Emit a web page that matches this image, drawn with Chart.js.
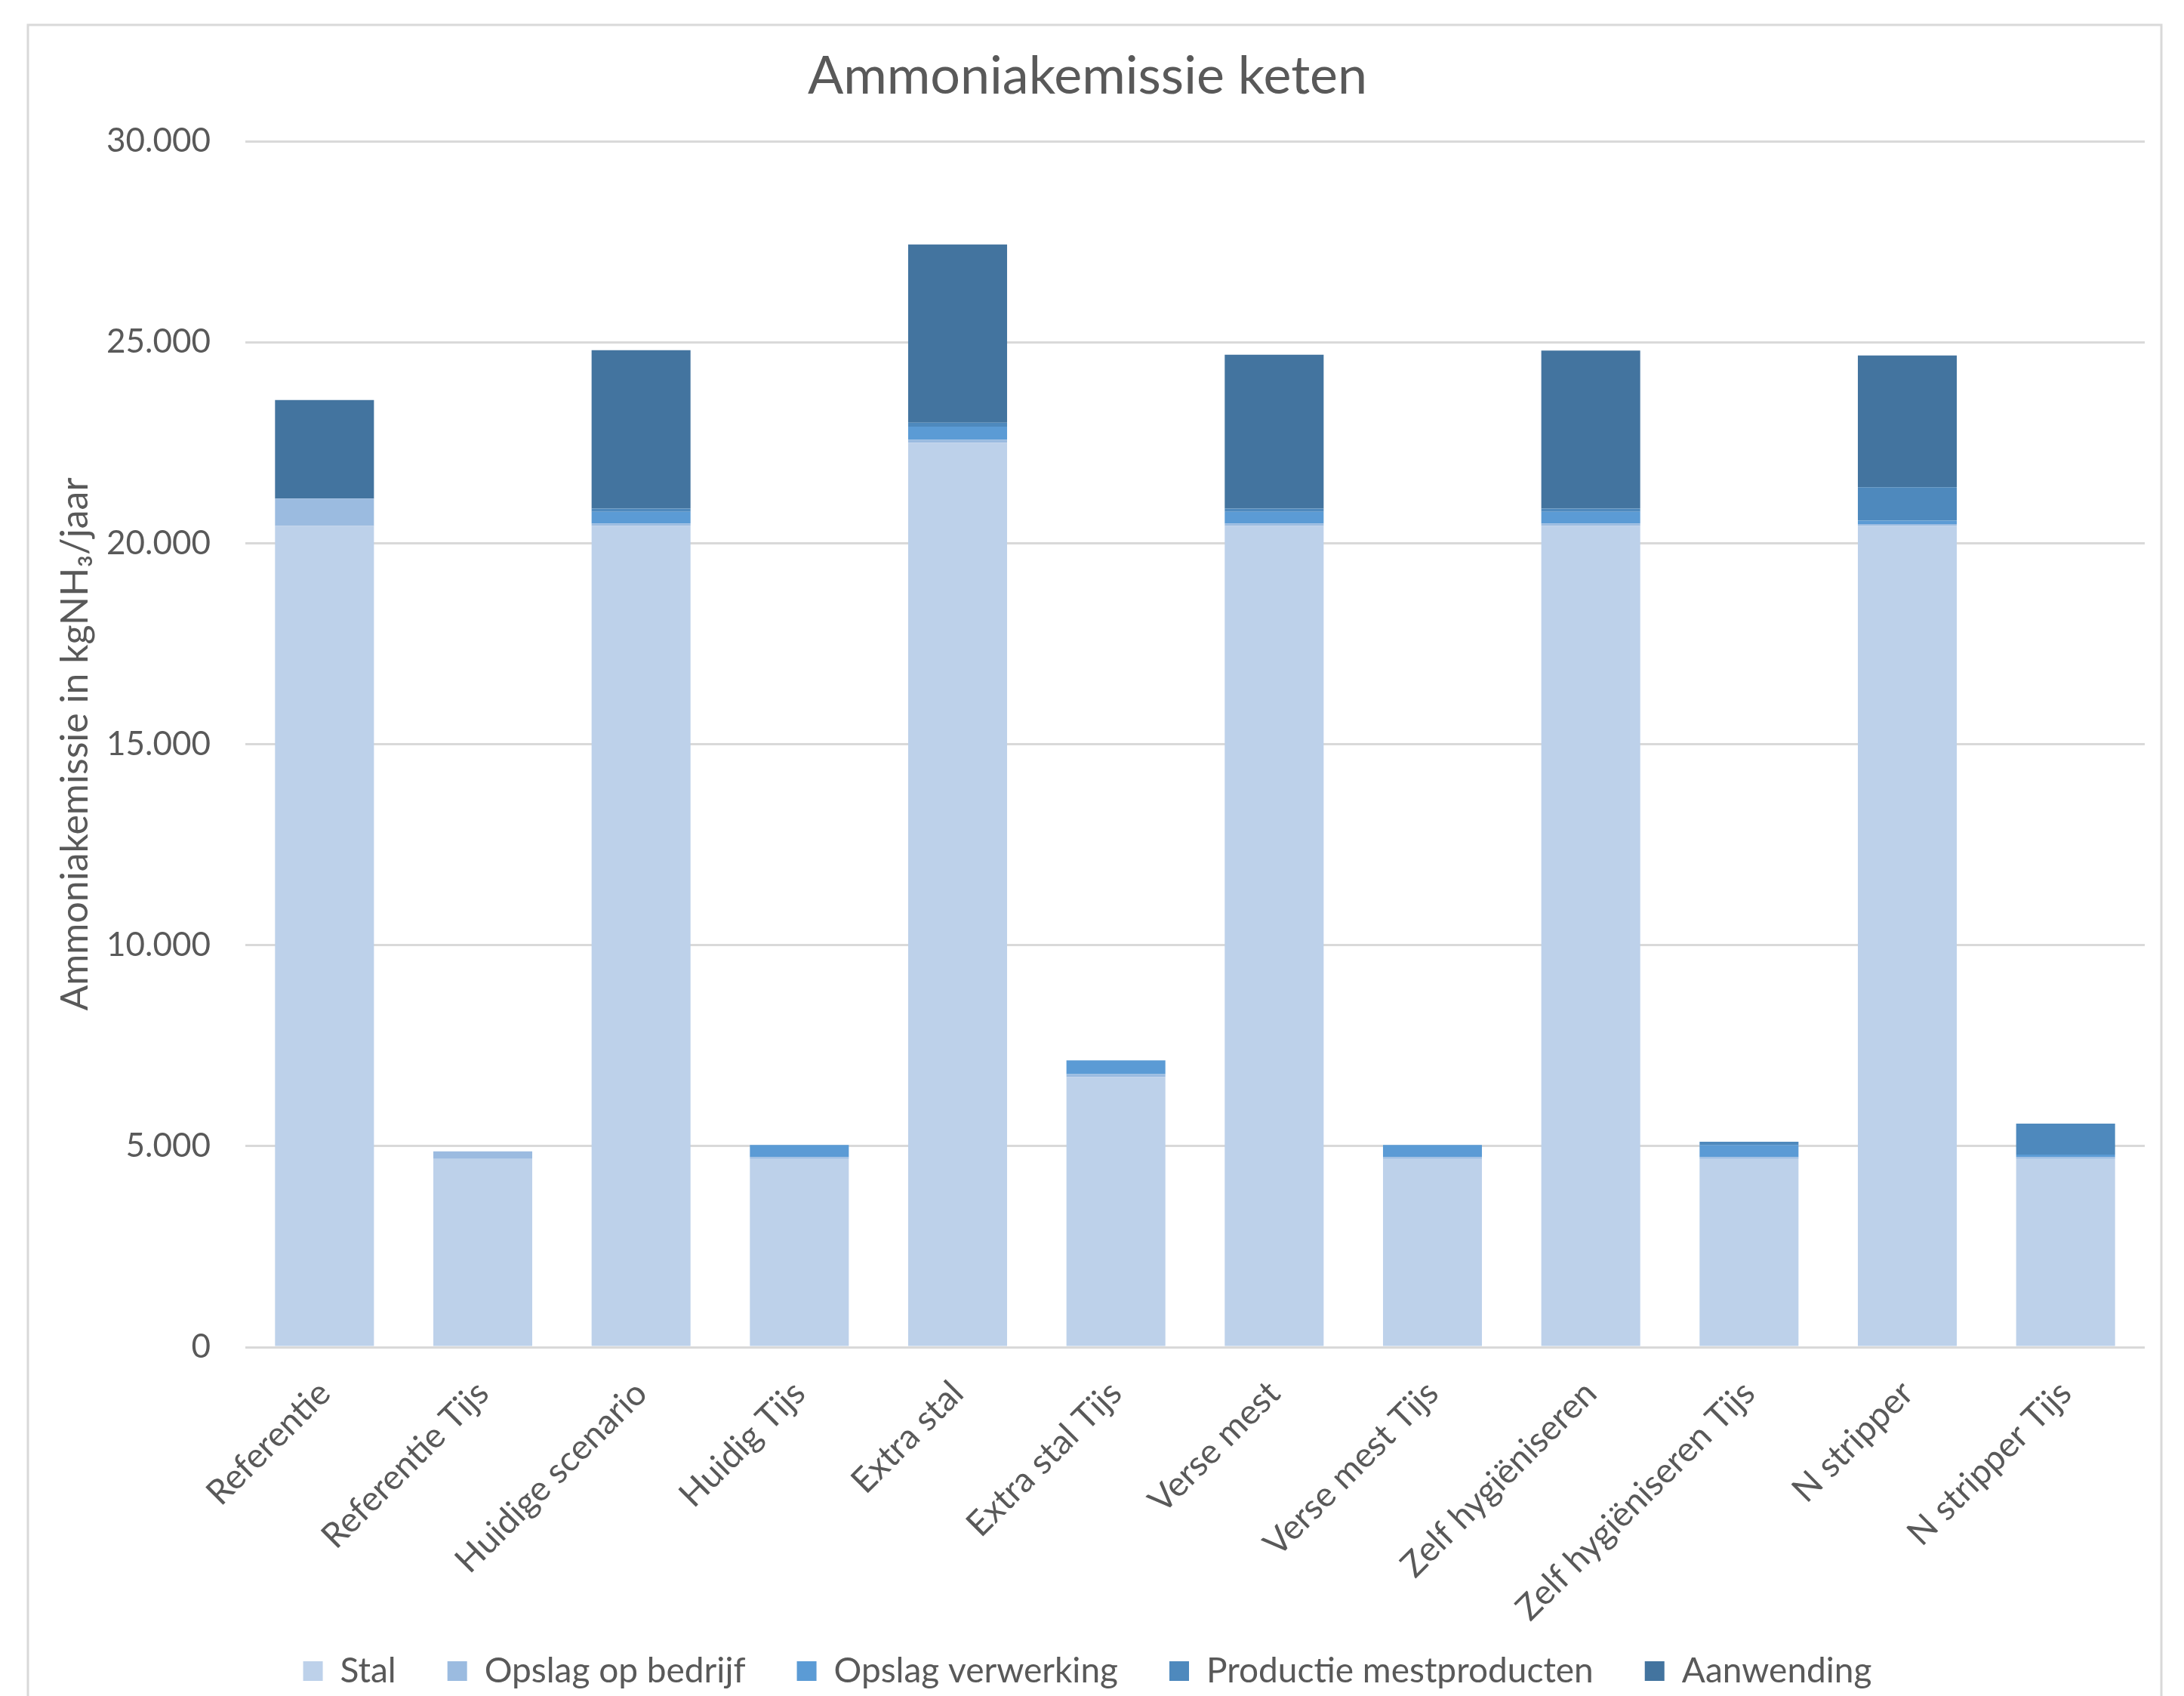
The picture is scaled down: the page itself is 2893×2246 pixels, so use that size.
<!DOCTYPE html>
<html>
<head>
<meta charset="utf-8">
<script src="https://cdn.jsdelivr.net/npm/chart.js@4/dist/chart.umd.min.js"></script>
<style>
  html, body { margin: 0; padding: 0; background: #fff; }
  #wrap { width: 2893px; height: 2246px; }
</style>
</head>
<body>
<div id="wrap"><canvas id="chart" width="2893" height="2246"></canvas></div>
<script>
// Categorieën (scenario's)
const categories = [
  'Referentie', 'Referentie Tijs', 'Huidige scenario', 'Huidig Tijs',
  'Extra stal', 'Extra stal Tijs', 'Verse mest', 'Verse mest Tijs',
  'Zelf hygiëniseren', 'Zelf hygiëniseren Tijs', 'N stripper', 'N stripper Tijs'
];

// Emissie per ketenschakel (kg NH3/jaar)
const stal             = [20430, 4680, 20430, 4680, 22500, 6720, 20430, 4680, 20430, 4680, 20430, 4680];
const opslagBedrijf    = [680, 190, 60, 50, 75, 70, 60, 50, 60, 50, 45, 50];
const opslagVerwerking = [0, 0, 290, 300, 325, 345, 290, 300, 290, 300, 85, 60];
const productie        = [0, 0, 80, 0, 100, 0, 80, 0, 80, 80, 830, 770];
const aanwending       = [2450, 0, 3940, 0, 4430, 0, 3830, 0, 3930, 0, 3280, 0];

// As-ticks
const yTicks = [0, 5000, 10000, 15000, 20000, 25000, 30000];

const textColor = '#595959';
const fontFamily = 'Lato, "Open Sans", sans-serif';

const fmt = v => String(v).replace(/\B(?=(\d{3})+(?!\d))/g, '.');

// Rand om de hele grafiek + lange x-labels niet afknippen
const frame = {
  id: 'frame',
  beforeDraw(chart) {
    chart.scales.x._computeLabelArea = () => undefined;
    const ctx = chart.ctx;
    ctx.save();
    ctx.strokeStyle = '#d9d9d9';
    ctx.lineWidth = 3;
    ctx.strokeRect(37, 33, 2826, 2300);
    ctx.restore();
  }
};

const ds = (label, data, color) => ({
  label: label,
  data: data,
  backgroundColor: color,
  borderWidth: 0,
  barPercentage: 0.625,
  categoryPercentage: 1.0
});

new Chart(document.getElementById('chart'), {
  type: 'bar',
  data: {
    labels: categories,
    datasets: [
      ds('Stal', stal, '#bdd1ea'),
      ds('Opslag op bedrijf', opslagBedrijf, '#9bbbe0'),
      ds('Opslag verwerking', opslagVerwerking, '#5b9bd5'),
      ds('Productie mestproducten', productie, '#4e89bd'),
      ds('Aanwending', aanwending, '#43749f')
    ]
  },
  options: {
    responsive: false,
    animation: false,
    layout: { padding: { left: 40, right: 52, top: 40, bottom: 0 } },
    plugins: {
      title: {
        display: true,
        text: 'Ammoniakemissie keten',
        color: textColor,
        font: { family: fontFamily, size: 70, weight: 'normal' },
        padding: { top: 19, bottom: 44 }
      },
      legend: {
        position: 'bottom',
        labels: {
          color: textColor,
          font: { family: fontFamily, size: 46 },
          boxWidth: 26,
          boxHeight: 26,
          padding: 68
        }
      },
      tooltip: { enabled: false }
    },
    scales: {
      x: {
        stacked: true,
        grid: { display: false },
        border: { display: false },
        ticks: {
          color: textColor,
          font: { family: fontFamily, size: 46 },
          minRotation: 45,
          maxRotation: 45,
          padding: 26
        },
        afterFit(scale) { scale.height = 338; }
      },
      y: {
        stacked: true,
        min: 0,
        max: 30000,
        afterBuildTicks(scale) { scale.ticks = yTicks.map(v => ({ value: v })); },
        grid: { color: '#d9d9d9', lineWidth: 3, drawTicks: false },
        border: { display: false },
        ticks: {
          color: textColor,
          font: { family: fontFamily, size: 44 },
          padding: 46,
          callback: v => fmt(v)
        },
        title: {
          display: true,
          text: 'Ammoniakemissie in kgNH₃/jaar',
          color: textColor,
          font: { family: fontFamily, size: 50 },
          padding: { top: 30, bottom: 0 }
        },
        afterFit(scale) { scale.width = 285; }
      }
    }
  },
  plugins: [frame]
});
</script>
</body>
</html>
